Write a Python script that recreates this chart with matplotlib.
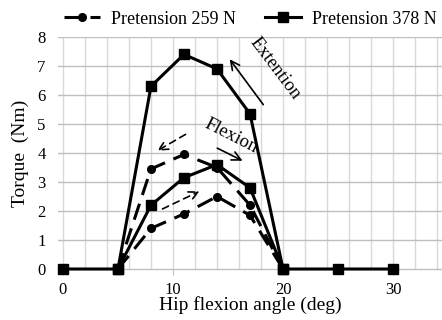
import matplotlib
matplotlib.use("Agg")
import matplotlib.pyplot as plt
from matplotlib.lines import Line2D

plt.rcParams['font.family'] = ['Liberation Serif', 'DejaVu Serif']

# Data
angle_378 = [0, 5, 8, 11, 14, 17, 20, 25, 30]
torque_378_ext = [0, 0, 6.3, 7.4, 6.9, 5.35, 0, 0, 0]
angle_flex = [5, 8, 11, 14, 17, 20]
torque_378_flex = [0, 2.2, 3.15, 3.6, 2.8, 0]
torque_259_ext = [0, 3.45, 3.95, 3.5, 2.2, 0]
torque_259_flex = [0, 1.4, 1.9, 2.5, 1.85, 0]
labels = ["Pretension 259 N", "Pretension 378 N"]

fig = plt.figure(figsize=(4.42, 3.2), dpi=100)
ax = fig.add_axes([58/442, 51/320, 1 - 58/442, 232/320])

ax.set_xlim(-0.45, 34.45)
ax.set_ylim(0, 8)

# grid
for xv in range(2, 35, 2):
    ax.axvline(xv, color='#d9d9d9', lw=1.0, zorder=0)
ax.axvline(0, color='#d9d9d9', lw=1.0, zorder=0)
for yv in range(1, 9):
    ax.axhline(yv, color='#bfbfbf', lw=1.0, zorder=0)

for s in ['left', 'right', 'top']:
    ax.spines[s].set_visible(False)
ax.spines['bottom'].set_color('#bfbfbf')
ax.spines['bottom'].set_linewidth(1.0)

ax.set_xticks([0, 10, 20, 30])
ax.set_yticks(range(0, 9))
ax.tick_params(axis='x', colors='#bfbfbf', length=4, labelcolor='black', labelsize=12, pad=5)
ax.tick_params(axis='y', length=0, labelcolor='black', labelsize=12, pad=9)

dash = (0, (5.5, 3))
ax.plot(angle_378, torque_378_ext, color='black', lw=2.2, marker='s', ms=7.5, zorder=3, clip_on=False)
ax.plot(angle_flex, torque_378_flex, color='black', lw=2.2, marker='s', ms=7.5, zorder=3, clip_on=False)
ax.plot(angle_flex, torque_259_ext, color='black', lw=2.2, ls=dash, marker='o', ms=5.5, zorder=4, clip_on=False)
ax.plot(angle_flex, torque_259_flex, color='black', lw=2.2, ls=dash, marker='o', ms=5.5, zorder=4, clip_on=False)

# annotations
ax.annotate('', xy=(15.0, 7.31), xytext=(18.36, 5.59),
            arrowprops=dict(arrowstyle='->', color='black', lw=1.2, mutation_scale=16))
ax.text(19.3, 6.9, 'Extention', rotation=-53, ha='center', va='center', fontsize=13.5,
        rotation_mode='anchor')
ax.annotate('', xy=(16.55, 3.69), xytext=(13.8, 4.21),
            arrowprops=dict(arrowstyle='->', color='black', lw=1.2, mutation_scale=16))
ax.text(15.3, 4.6, 'Flexion', rotation=-27, ha='center', va='center', fontsize=13.5,
        rotation_mode='anchor')
ax.annotate('', xy=(8.36, 4.03), xytext=(11.36, 4.69),
            arrowprops=dict(arrowstyle='->', color='black', lw=1.2, ls=(0, (4, 3)), mutation_scale=16))
ax.annotate('', xy=(12.64, 2.72), xytext=(8.82, 2.03),
            arrowprops=dict(arrowstyle='->', color='black', lw=1.2, ls=(0, (4, 3)), mutation_scale=16))

ax.set_xlabel('Hip flexion angle (deg)', fontsize=14, labelpad=-1)
ax.set_ylabel('Torque  (Nm)', fontsize=14, labelpad=6)

handles = [Line2D([], [], color='black', lw=2.2, ls=dash, marker='o', ms=5.5),
           Line2D([], [], color='black', lw=2.2, marker='s', ms=7.5)]
fig.legend(handles, labels, loc='center', bbox_to_anchor=(250/442, 1 - 19/320), ncol=2,
           frameon=False, fontsize=13, handlelength=2.0, columnspacing=1.6, handletextpad=0.6,
           borderaxespad=0)

fig.savefig('out.png', dpi=100)
